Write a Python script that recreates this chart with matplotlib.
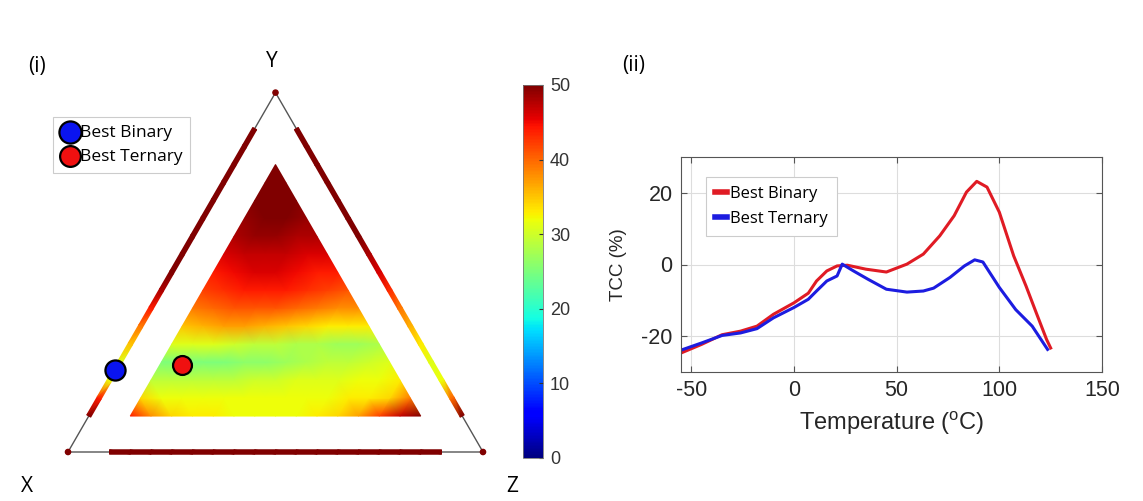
#!/usr/bin/env python3
"""
三元系TCCマップとTCC温度特性のプロット
"""

import matplotlib.pyplot as plt
import matplotlib.tri as mtri
import numpy as np

plt.rcParams["font.family"] = ["Liberation Sans", "DejaVu Sans"]
plt.rcParams["mathtext.default"] = "regular"
plt.rcParams["axes.unicode_minus"] = False

LABEL_FONT = ["Open Sans", "DejaVu Sans"]
SQ3 = np.sqrt(3) / 2

# 三元系内部マップ: Y成分ごとの行, 各行は Z = 0.10 から 0.05 刻み
field_y = [0.10, 0.15, 0.20, 0.25, 0.30, 0.35, 0.40, 0.45,
           0.50, 0.55, 0.60, 0.65, 0.70, 0.75, 0.80]
field_rows = [
    [44, 38, 34, 33, 33, 32, 32, 32, 32, 33, 34, 37, 42, 47, 50],
    [34, 32, 32, 32, 32, 32, 32, 32, 32, 32, 33, 33, 34, 39],
    [29, 29, 29, 29, 29, 30, 30, 31, 31, 31, 32, 32, 33],
    [25, 25, 25, 25, 26, 26, 27, 28, 29, 29, 30, 31],
    [31, 31, 31, 30, 29, 29, 28, 28, 27, 27, 28],
    [35, 36, 37, 37, 36, 35, 34, 33, 33, 33],
    [39, 40, 41, 41, 41, 40, 39, 38, 38],
    [42, 43, 44, 44, 44, 43, 42, 41],
    [44, 45, 46, 46, 45, 44, 44],
    [46, 47, 47, 47, 46, 46],
    [48, 49, 49, 48, 48],
    [49, 50, 50, 49],
    [50, 50, 50],
    [50, 50],
    [50],
]

# 二元系 (辺上) : 組成 0.10 - 0.90, 0.05 刻み
edge_frac = [0.10, 0.15, 0.20, 0.25, 0.30, 0.35, 0.40, 0.45, 0.50,
             0.55, 0.60, 0.65, 0.70, 0.75, 0.80, 0.85, 0.90]
xy_edge = [50, 44, 32, 31, 35, 39, 44, 48, 50, 50, 50, 50, 50, 50, 50, 50, 50]
yz_edge = [50, 40, 32, 31, 33, 36, 39, 43, 46, 48, 50, 50, 50, 50, 50, 50, 50]
xz_edge = [50] * 17
vertex_vals = [50, 50, 50]

# 最良組成 (X, Y, Z)
best_binary = (0.772, 0.228, 0.0)
best_ternary = (0.604, 0.242, 0.154)

# TCC温度特性
temp_binary = [-55, -45, -35, -26, -18, -10, 0, 7, 11, 16, 21, 26, 35, 45,
               55, 63, 71, 78, 84, 89, 94, 100, 107, 113, 118, 123, 125]
tcc_binary = [-24.7, -22.3, -19.6, -18.6, -17.2, -13.9, -10.7, -8.0, -4.6,
              -1.8, -0.4, -0.2, -1.3, -2.1, 0.1, 2.9, 8.0, 13.6, 20.2, 23.2,
              21.6, 14.6, 2.4, -6.0, -13.5, -20.9, -23.3]
temp_ternary = [-55, -45, -35, -26, -18, -10, 0, 7, 11, 16, 21, 23.5, 29, 36,
                45, 55, 63, 68, 76, 83, 88, 92, 100, 108, 116, 123.5]
tcc_ternary = [-23.9, -21.9, -19.8, -19.1, -17.9, -14.9, -12.0, -9.7, -7.4,
               -4.6, -3.2, 0.1, -1.8, -4.1, -6.9, -7.7, -7.4, -6.6, -3.6,
               -0.4, 1.3, 0.7, -6.4, -12.6, -17.2, -23.7]


def to_xy(y, z):
    """三元組成 -> 平面座標 (X左下, Z右下, Y上)"""
    return z + y / 2, y * SQ3


def draw_strip(ax, px, py, vals, width):
    """辺上の二元系データを細い帯として描画"""
    px, py = np.asarray(px, float), np.asarray(py, float)
    dx, dy = px[-1] - px[0], py[-1] - py[0]
    n = np.hypot(dx, dy)
    nx, ny = -dy / n * width / 2, dx / n * width / 2
    xs = np.column_stack([px - nx, px + nx]).ravel()
    ys = np.column_stack([py - ny, py + ny]).ravel()
    c = np.repeat(np.asarray(vals, float), 2)
    tris = []
    for i in range(len(px) - 1):
        a = 2 * i
        tris += [[a, a + 1, a + 2], [a + 1, a + 3, a + 2]]
    tri = mtri.Triangulation(xs, ys, tris)
    return ax.tripcolor(tri, c, shading="gouraud", cmap="jet",
                        vmin=0, vmax=50, zorder=3)


fig = plt.figure(figsize=(11.43, 5.01), dpi=100)

# (i) 三元系マップ
ax1 = fig.add_axes([20 / 1143, 1 / 501, 500 / 1143, 460 / 501])
ax1.set_xlim(-48 / 415, 452 / 415)
ax1.set_ylim(-48 / 415, 412 / 415)
ax1.axis("off")

ax1.plot([0, 1, 0.5, 0], [0, 0, SQ3, 0], color="#555555", lw=1, zorder=1)

fx, fy, fv = [], [], []
for y, row in zip(field_y, field_rows):
    for i, v in enumerate(row):
        x2, y2 = to_xy(y, 0.10 + 0.05 * i)
        fx.append(x2)
        fy.append(y2)
        fv.append(v)
field = ax1.tripcolor(mtri.Triangulation(fx, fy), fv, shading="gouraud",
                      cmap="jet", vmin=0, vmax=50, zorder=2)

w = 4.5 / 415
f = np.asarray(edge_frac)
draw_strip(ax1, *to_xy(f, 0 * f), xy_edge, w)
draw_strip(ax1, *to_xy(f, 1 - f), yz_edge, w)
draw_strip(ax1, *to_xy(0 * f, f), xz_edge, w)
ax1.scatter([0, 1, 0.5], [0, 0, SQ3], c=vertex_vals, cmap="jet",
            vmin=0, vmax=50, s=14, zorder=4)

bx, by = to_xy(best_binary[1], best_binary[2])
tx, ty = to_xy(best_ternary[1], best_ternary[2])
ax1.scatter([bx], [by], s=210, color="#0a14f0", edgecolor="black",
            linewidth=1.6, zorder=5, label="Best Binary")
ax1.scatter([tx], [ty], s=185, color="#f01010", edgecolor="black",
            linewidth=1.6, zorder=5, label="Best Ternary")
leg1 = ax1.legend(loc="upper left", bbox_to_anchor=(0.066, 0.833),
                  borderaxespad=0, fancybox=False, framealpha=1,
                  edgecolor="#cccccc", handletextpad=0.0, handlelength=1.1,
                  borderpad=0.45, labelspacing=0.45, markerscale=1.1,
                  prop={"family": LABEL_FONT, "size": 12.5})
leg1.get_frame().set_linewidth(0.8)

ax1.text(0.4916, 0.94, "Y", fontsize=15, family=LABEL_FONT,
         ha="center", va="center")
ax1.text(-0.099, -0.084, "X", fontsize=15, family=LABEL_FONT,
         ha="center", va="center")
ax1.text(1.07, -0.084, "Z", fontsize=15, family=LABEL_FONT,
         ha="center", va="center")
ax1.text(-0.075, 0.93, "(i)", fontsize=15, family=LABEL_FONT,
         ha="center", va="center")

# カラーバー
cax = fig.add_axes([523 / 1143, 43 / 501, 20 / 1143, 373 / 501])
cb = fig.colorbar(field, cax=cax, ticks=[0, 10, 20, 30, 40, 50])
cb.outline.set_linewidth(0.6)
cb.outline.set_edgecolor("#777777")
cax.tick_params(direction="in", length=3, width=0.8, color="#333333",
                labelsize=13, labelcolor="#333333", pad=5)

# (ii) TCC温度特性
ax2 = fig.add_axes([681 / 1143, 129 / 501, 421 / 1143, 215 / 501])
ax2.plot(temp_binary, tcc_binary, color="#e01b24", lw=2.2,
         label="Best Binary")
ax2.plot(temp_ternary, tcc_ternary, color="#1c1ce0", lw=2.2,
         label="Best Ternary")
ax2.set_xlim(-55, 150)
ax2.set_ylim(-30, 30)
ax2.set_xticks([-50, 0, 50, 100, 150])
ax2.set_yticks([-20, 0, 20])
ax2.grid(True, color="#dddddd", lw=0.8)
ax2.set_axisbelow(True)
for s in ax2.spines.values():
    s.set_color("#555555")
    s.set_linewidth(0.8)
ax2.tick_params(direction="in", length=4, width=0.8, color="#555555",
                top=True, right=True, labelsize=15.5, labelcolor="#262626",
                pad=6)
ax2.set_xlabel("Temperature ($^{o}$C)", fontsize=17, color="#262626",
               labelpad=6)
ax2.set_ylabel("TCC (%)", fontsize=13.5, color="#262626", labelpad=10)
leg2 = ax2.legend(loc="upper left", bbox_to_anchor=(0.059, 0.907),
                  borderaxespad=0, fancybox=False, framealpha=1,
                  edgecolor="#cccccc", handlelength=0.7, handletextpad=0.2,
                  borderpad=0.55, labelspacing=0.55,
                  prop={"family": LABEL_FONT, "size": 12})
for h in leg2.get_lines():
    h.set_linewidth(4)
leg2.get_frame().set_linewidth(0.8)

fig.text(634 / 1143, 1 - 66 / 501, "(ii)", fontsize=15, family=LABEL_FONT,
         ha="center", va="center")

fig.savefig("out.png", dpi=100)
